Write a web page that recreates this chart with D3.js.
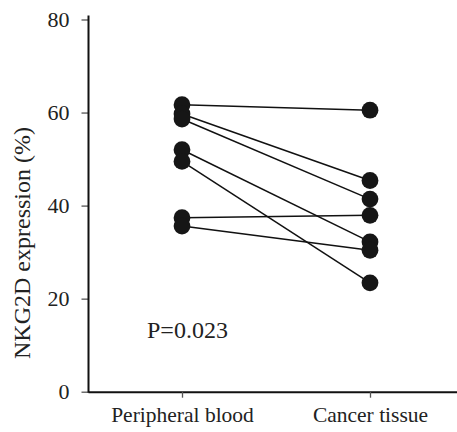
<!DOCTYPE html>
<html>
<head>
<meta charset="utf-8">
<script src="https://cdn.jsdelivr.net/npm/d3@7"></script>
<style>
  html, body { margin: 0; padding: 0; background: #fff; }
  svg { display: block; }
  text { font-family: "Liberation Serif", "Times New Roman", serif; fill: #222; }
</style>
</head>
<body>
<svg id="chart" width="457" height="432"></svg>
<script>
const categories = ["Peripheral blood", "Cancer tissue"];
const peripheralBlood = [61.7, 59.7, 58.6, 52.0, 49.5, 37.4, 35.6];
const cancerTissue    = [60.5, 45.4, 41.4, 32.2, 23.4, 37.9, 30.4];
const yTicks = [0, 20, 40, 60, 80];
const yLabel = "NKG2D expression (%)";
const pLabel = "P=0.023";

const svg = d3.select("#chart");

const x = d3.scalePoint().domain(categories).range([88, 464]).padding(0.5);
const y = d3.scaleLinear().domain([0, 80]).range([391.7, 19.5]);

// Y axis
const yAxis = svg.append("g").attr("transform", "translate(88.5,0)")
  .call(d3.axisLeft(y).tickValues(yTicks).tickSize(7).tickSizeOuter(0).tickPadding(12));
yAxis.select(".domain").remove();
yAxis.selectAll(".tick line").attr("stroke", "#555").attr("stroke-width", 1.3);
yAxis.selectAll(".tick text").attr("font-size", 22).attr("fill", "#222")
  .style("font-family", "Liberation Serif, serif");
svg.append("line")
  .attr("x1", 88.5).attr("x2", 88.5)
  .attr("y1", y(0) + 1).attr("y2", y(80) - 4)
  .attr("stroke", "#111").attr("stroke-width", 2);

// X axis
const xAxis = svg.append("g").attr("transform", `translate(0,${y(0)})`)
  .call(d3.axisBottom(x).tickSize(6).tickSizeOuter(0).tickPadding(9));
xAxis.select(".domain").attr("stroke", "#111").attr("stroke-width", 2);
xAxis.selectAll(".tick line").attr("stroke", "#555").attr("stroke-width", 1.3);
xAxis.selectAll(".tick text").attr("font-size", 21.5).attr("fill", "#222")
  .style("font-family", "Liberation Serif, serif");

// Y label
svg.append("text")
  .attr("transform", `translate(30,${243}) rotate(-90)`)
  .attr("text-anchor", "middle")
  .attr("font-size", 24)
  .text(yLabel);

// Pair lines
const pairs = peripheralBlood.map((v, i) => [v, cancerTissue[i]]);
svg.append("g").selectAll("line").data(pairs).join("line")
  .attr("x1", x(categories[0])).attr("x2", x(categories[1]))
  .attr("y1", d => y(d[0])).attr("y2", d => y(d[1]))
  .attr("stroke", "#111").attr("stroke-width", 1.5);

// Points
const pts = [];
peripheralBlood.forEach(v => pts.push([categories[0], v]));
cancerTissue.forEach(v => pts.push([categories[1], v]));
svg.append("g").selectAll("circle").data(pts).join("circle")
  .attr("cx", d => x(d[0])).attr("cy", d => y(d[1]))
  .attr("r", 8.4).attr("fill", "#161616");

// P value
svg.append("text")
  .attr("x", 147).attr("y", 338)
  .attr("font-size", 24)
  .text(pLabel);
</script>
</body>
</html>
